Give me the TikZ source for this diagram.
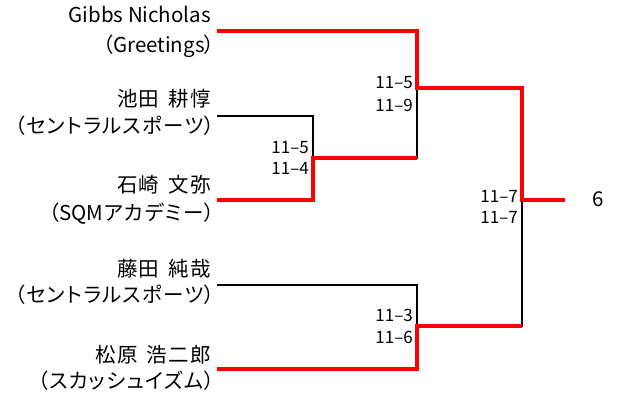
\documentclass[tikz,border=0pt]{standalone}
\usepackage{fontspec}
\setmainfont{Noto Sans CJK JP}[RawFeature=+palt]
\newfontfamily\cjkwide{Noto Sans CJK JP}[RawFeature=+palt,LetterSpace=6]
\newcommand{\nmgap}{\hspace{0.45em}}
\newcommand{\rp}{）\kern-0.2em}
\begin{document}
\begin{tikzpicture}[x=1pt,y=-1pt,
  pname/.style={anchor=east,inner sep=0pt,text height=0.88em,text depth=0.12em,font=\fontsize{20.5}{24}\selectfont},
  jname/.style={pname,font=\fontsize{20.5}{24}\cjkwide},
  score/.style={anchor=east,inner sep=0pt,text height=0.88em,text depth=0.12em,font=\fontsize{17}{20}\selectfont},
  win/.style={draw=red,line width=3.2pt},
  lose/.style={draw=black,line width=1.8pt}]
\useasboundingbox (0,0) rectangle (619,401);
% player names
\node[pname] (n1) at (211,19) {Gibbs Nicholas};
\node[pname] (c1) at (211,49) {（Greetings\rp};
\node[jname] (n2) at (211,103) {池田\nmgap 耕惇};
\node[jname] (c2) at (211,130) {（セントラルスポーツ\rp};
\node[jname] (n3) at (211,189) {石崎\nmgap 文弥};
\node[jname] (c3) at (211,217) {（{\normalfont SQM\kern1pt}アカデミー\rp};
\node[jname] (n4) at (211,273) {藤田\nmgap 純哉};
\node[jname] (c4) at (211,299) {（セントラルスポーツ\rp};
\node[jname] (n5) at (211,359) {松原\nmgap 浩二郎};
\node[jname] (c5) at (211,385) {（スカッシュイズム\rp};
% bracket points
\coordinate (p1) at (217,31);
\coordinate (p2) at (217,116);
\coordinate (p3) at (217,200);
\coordinate (p4) at (217,285);
\coordinate (p5) at (217,369);
\coordinate (m1) at (313,158);
\coordinate (m2) at (417,88);
\coordinate (m3) at (417,326);
\coordinate (f) at (522,200);
\coordinate (w) at (565,200);
\node[pname,anchor=center] (res) at (598,203) {6};
% losing lines
\draw[lose] (p2) -| (m1);
\draw[lose] (m1) -| (m2);
\draw[lose] (p4) -| (m3);
\draw[lose] (m3) -| (f);
% winning lines
\draw[win] (p3) -| (m1) -- (m1 -| m2);
\draw[win] (p1) -| (m2) -| (f) -- (w);
\draw[win] (p5) -| (m3) -- (m3 -| f);
% scores
\node[score] (s1a) at (309,150) {11–5};
\node[score] (s1b) at (309,171) {11–4};
\node[score] (s2a) at (413,85) {11–5};
\node[score] (s2b) at (413,108) {11–9};
\node[score] (s3a) at (413,318) {11–3};
\node[score] (s3b) at (413,340) {11–6};
\node[score] (s4a) at (518,199) {11–7};
\node[score] (s4b) at (518,220) {11–7};
\end{tikzpicture}
\end{document}
